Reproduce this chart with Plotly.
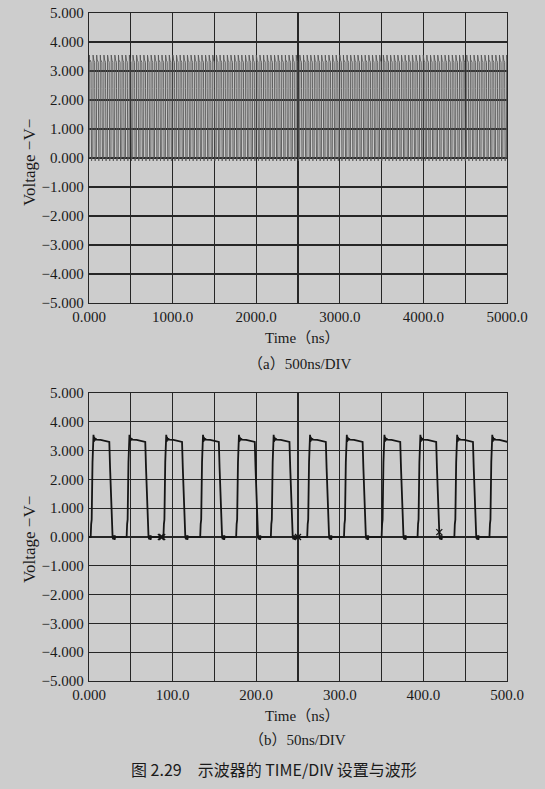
import plotly.graph_objects as go

# ---------------- data ----------------
# one clock cycle, relative to the start of the rising edge (ns, V)
cycle_dt = [0.0, 0.6, 1.2, 2.2, 3.0, 3.4, 3.8, 4.3, 5.0, 5.8, 7.0, 12.0, 18.0, 22.3,
            23.2, 24.5, 25.2, 26.2, 27.0, 27.8, 28.6, 29.5, 30.5]
cycle_v = [0.0, 0.45, 0.6, 2.6, 3.3, 3.55, 3.3, 3.48, 3.35, 3.42, 3.38, 3.37, 3.34, 3.3,
           2.4, 1.0, 0.6, 0.0, -0.08, 0.06, -0.1, 0.02, 0.0]

# (b) 50 ns/DIV : rising-edge start times (ns)
rise_b = [2, 45, 89, 133, 176, 217.5, 261, 305, 350, 393, 437, 479]
# (a) 500 ns/DIV : same clock, period read from (b)
period_a = 43.4
first_rise_a = 2.0
span_a = 5000.0

# cursor marks in (b)
mark_t = [86, 87.5, 250, 419]
mark_v = [0.0, 0.0, 0.0, 0.17]

y_ticks = [5, 4, 3, 2, 1, 0, -1, -2, -3, -4, -5]
y_text = ["5.000", "4.000", "3.000", "2.000", "1.000", "0.000",
          "\u22121.000", "\u22122.000", "\u22123.000", "\u22124.000", "\u22125.000"]
xa_ticks = [0, 1000, 2000, 3000, 4000, 5000]
xa_text = ["0.000", "1000.0", "2000.0", "3000.0", "4000.0", "5000.0"]
xb_ticks = [0, 100, 200, 300, 400, 500]
xb_text = ["0.000", "100.0", "200.0", "300.0", "400.0", "500.0"]


def build(rises, end):
    ts, vs = [0.0], [0.0]
    for r in rises:
        for dt, v in zip(cycle_dt, cycle_v):
            ts.append(r + dt)
            vs.append(v)
    ts.append(end)
    vs.append(0.0)
    return ts, vs


rises_a = []
r = first_rise_a
while r < span_a:
    rises_a.append(r)
    r += period_a

ta, va = build(rises_a, span_a)
tb, vb = build(rise_b, 500.0)

BG = "#cdcdcd"
GRID = "#262626"
GW = 1.2
W, H = 545, 789

fig = go.Figure()
fig.add_trace(go.Scatter(x=ta, y=va, mode="lines", xaxis="x", yaxis="y",
                         line=dict(color="#555555", width=0.9), showlegend=False))
fig.add_trace(go.Scatter(x=tb, y=vb, mode="lines", xaxis="x2", yaxis="y2",
                         line=dict(color="#151515", width=1.8), showlegend=False))
fig.add_trace(go.Scatter(x=mark_t, y=mark_v, mode="markers", xaxis="x2", yaxis="y2",
                         marker=dict(symbol="x-thin", size=6, line=dict(color="#151515", width=1.3)),
                         showlegend=False))

def px_x(p):
    return p / W

def px_y(p):
    return 1 - p / H

tickfont = dict(family="Liberation Serif", size=15, color="#1a1a1a")

def xaxis(dom_anchor, ticks, text, minor_dtick, rng):
    return dict(domain=[px_x(89), px_x(507)], anchor=dom_anchor, range=rng,
                tickmode="array", tickvals=ticks, ticktext=text, tickfont=tickfont,
                showgrid=True, gridcolor=GRID, gridwidth=GW,
                minor=dict(tick0=0, dtick=minor_dtick, showgrid=True, gridcolor=GRID, gridwidth=GW),
                showline=True, linecolor=GRID, linewidth=GW, mirror=True,
                zeroline=False, ticks="", automargin=False, fixedrange=True)

def yaxis(dom, anchor):
    return dict(domain=dom, anchor=anchor, range=[-5, 5],
                tickmode="array", tickvals=y_ticks, ticktext=y_text, tickfont=tickfont,
                showgrid=True, gridcolor=GRID, gridwidth=GW,
                showline=True, linecolor=GRID, linewidth=GW, mirror=True,
                zeroline=False, ticks="", ticklabelstandoff=1, automargin=False,
                fixedrange=True)

fig.update_layout(
    template="none",
    width=W, height=H, margin=dict(l=0, r=0, t=0, b=0, pad=0), autosize=False,
    paper_bgcolor=BG, plot_bgcolor=BG,
    xaxis=xaxis("y", xa_ticks, xa_text, 500, [0, 5000]),
    yaxis=yaxis([px_y(303), px_y(13)], "x"),
    xaxis2=xaxis("y2", xb_ticks, xb_text, 50, [0, 500]),
    yaxis2=yaxis([px_y(681), px_y(393)], "x2"),
)

serif = dict(family="Liberation Serif, Noto Sans CJK SC", size=15, color="#1a1a1a")
anns = [
    ("Time\uff08ns\uff09", 302, 338, 0, 15),
    ("\uff08a\uff09500ns/DIV", 299, 364, 0, 15),
    ("Voltage \u2212V\u2212", 29, 163, -90, 17),
    ("Time\uff08ns\uff09", 302, 716, 0, 15),
    ("\uff08b\uff0950ns/DIV", 297, 740, 0, 15),
    ("Voltage \u2212V\u2212", 29, 540, -90, 17),
]
for text, x, y, ang, sz in anns:
    fig.add_annotation(text=text, x=px_x(x), y=px_y(y), xref="paper", yref="paper",
                       showarrow=False, font=dict(serif, size=sz), textangle=ang,
                       xanchor="center", yanchor="middle")
fig.add_annotation(text="图 2.29\u3000示波器的 TIME/DIV 设置与波形", x=px_x(274), y=px_y(769),
                   xref="paper", yref="paper", showarrow=False,
                   font=dict(family="Noto Sans CJK SC", size=16, color="#1a1a1a"),
                   xanchor="center", yanchor="middle")

fig.write_html(
    "out.html",
    config={"displayModeBar": False, "staticPlot": True},
    post_script="document.body.style.margin='0';document.body.style.overflow='hidden';"
                "document.body.style.background='" + BG + "';",
)
